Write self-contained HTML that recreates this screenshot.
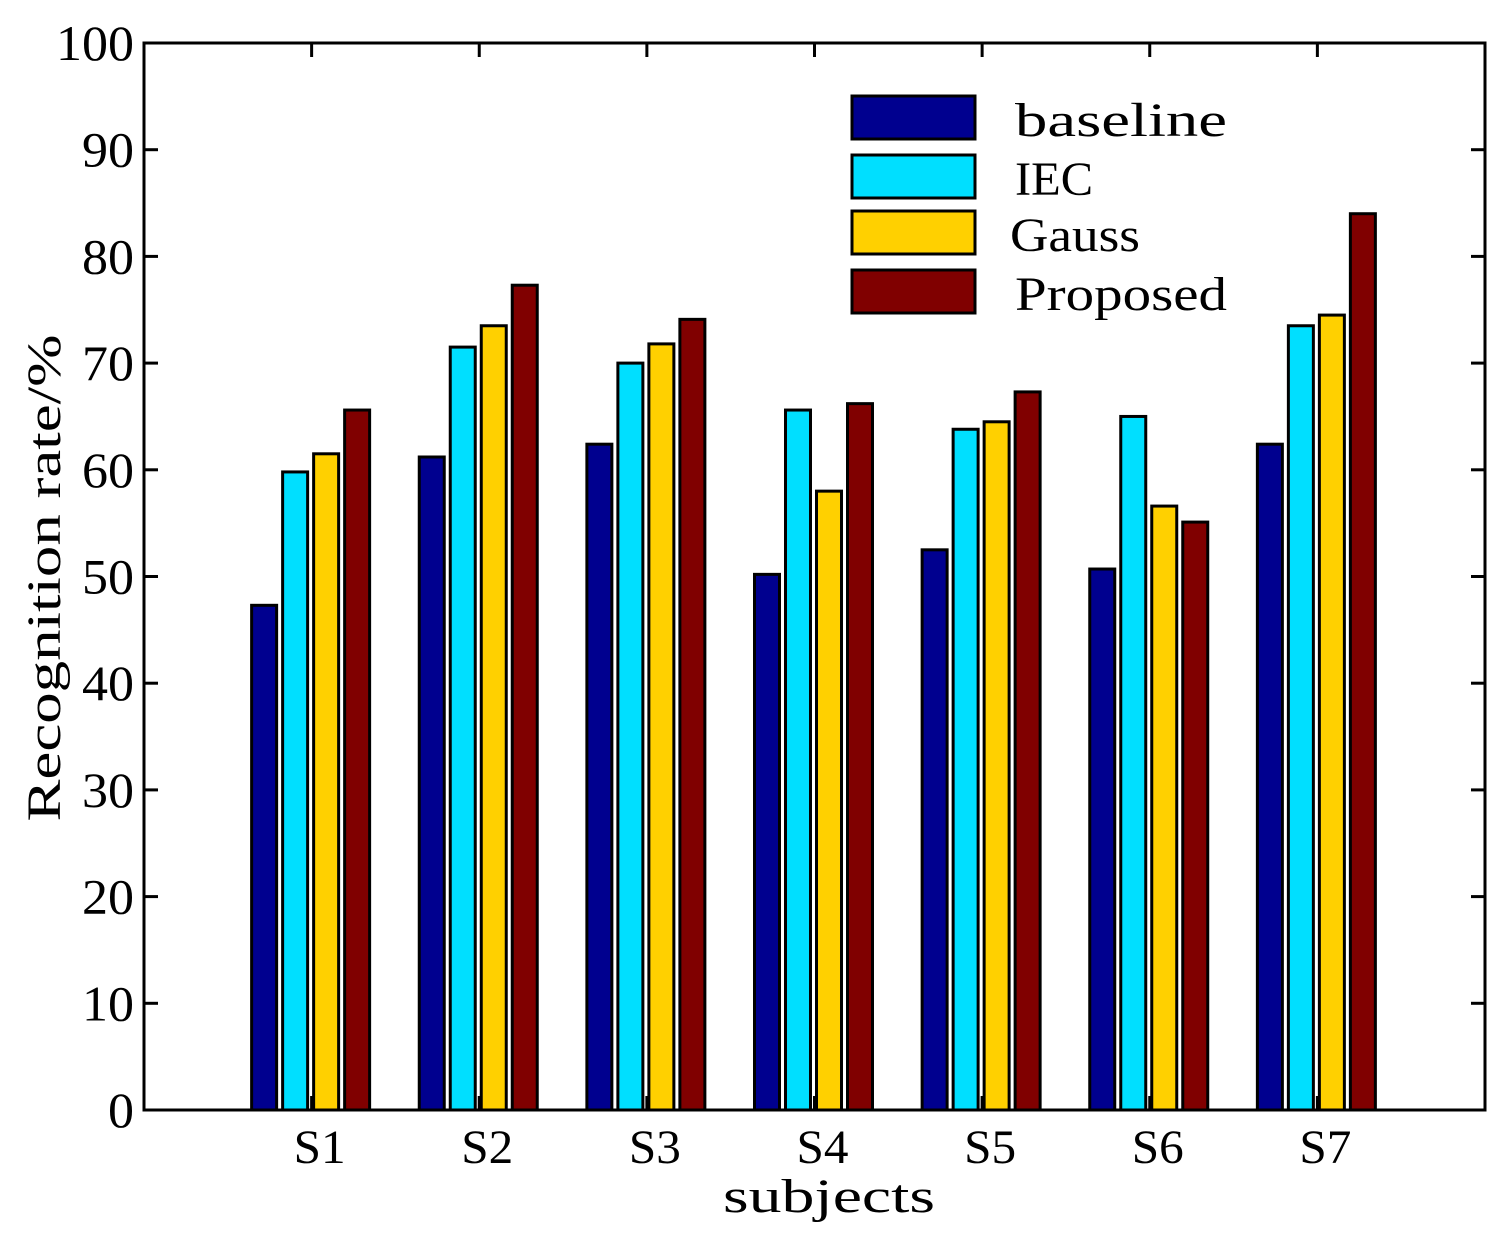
<!DOCTYPE html>
<html><head><meta charset="utf-8"><style>
body{margin:0;background:#fff}
svg text{font-family:"Liberation Serif","DejaVu Serif",serif;fill:#000}
</style></head><body>
<svg id="chart" width="1506" height="1241" xmlns="http://www.w3.org/2000/svg"></svg>
<script>
const categories=["S1","S2","S3","S4","S5","S6","S7"];
const baseline=[47.3,61.2,62.4,50.2,52.5,50.7,62.4];
const iec=[59.8,71.5,70.0,65.6,63.8,65.0,73.5];
const gauss=[61.5,73.5,71.8,58.0,64.5,56.6,74.5];
const proposed=[65.6,77.3,74.1,66.2,67.3,55.1,84.0];
const yTicks=[0,10,20,30,40,50,60,70,80,90,100];
const seriesNames=["baseline","IEC","Gauss","Proposed"];
const seriesData=[baseline,iec,gauss,proposed];
const colors=["#00008f","#00dfff","#ffd000","#800000"];
const L=144,R=1485,T=43,B=1110;
const ns="http://www.w3.org/2000/svg";
const svg=document.getElementById('chart');
function xs(i){return L+(i+1)*(R-L)/(categories.length+1);}
function ys(v){return B-(v/100)*(B-T);}
function mk(tag,attrs,parent){const e=document.createElementNS(ns,tag);for(const k in attrs)e.setAttribute(k,attrs[k]);(parent||svg).appendChild(e);return e;}
const stride=31,bw=25;
seriesData.forEach((arr,s)=>{
  arr.forEach((v,i)=>{
    const x=xs(i)-1+(s-1.5)*stride-bw/2;
    const r=mk('rect',{x:x,y:ys(v),width:bw,height:B-ys(v),fill:colors[s],stroke:'#000','stroke-width':3});
    
    
  });
});
const ax=mk('rect',{x:L,y:T,width:R-L,height:B-T,fill:'none',stroke:'#000','stroke-width':3});


yTicks.forEach(v=>{
  const y=ys(v);
  mk('line',{x1:L,x2:L+14,y1:y,y2:y,stroke:'#000','stroke-width':3});
  mk('line',{x1:R,x2:R-14,y1:y,y2:y,stroke:'#000','stroke-width':3});
  const s=String(v);
  const t=mk('text',{x:L-10,y:y+17,'font-size':50,'text-anchor':'end',textLength:26*s.length,lengthAdjust:'spacingAndGlyphs'});
  t.textContent=s;
  
  
});
categories.forEach((c,i)=>{
  const x=xs(i);
  mk('line',{x1:x,x2:x,y1:B,y2:B-14,stroke:'#000','stroke-width':3});
  mk('line',{x1:x,x2:x,y1:T,y2:T+14,stroke:'#000','stroke-width':3});
  const t=mk('text',{x:x+8,y:B+53,'font-size':48,'text-anchor':'middle',textLength:52,lengthAdjust:'spacingAndGlyphs'});
  t.textContent=c;
  
  
});
const xt=mk('text',{x:829,y:1212,'font-size':48,'text-anchor':'middle',textLength:212,lengthAdjust:'spacingAndGlyphs'});
xt.textContent='subjects';


const yt=mk('text',{x:0,y:0,'font-size':48,'text-anchor':'middle',textLength:487,lengthAdjust:'spacingAndGlyphs',transform:'translate(60,578) rotate(-90)'});
yt.textContent='Recognition rate/%';


const legendY=[96,155,211,270];
const legendW=[212,78,130,212];
seriesNames.forEach((n,s)=>{
  const g=mk('g',{});
  
  
  mk('rect',{x:852,y:legendY[s],width:123,height:43,fill:colors[s],stroke:'#000','stroke-width':3},g);
  const t=mk('text',{x:s==2?1010:1015,y:legendY[s]+40,'font-size':48,textLength:legendW[s],lengthAdjust:'spacingAndGlyphs'},g);
  t.textContent=n;
});
</script>
</body></html>
